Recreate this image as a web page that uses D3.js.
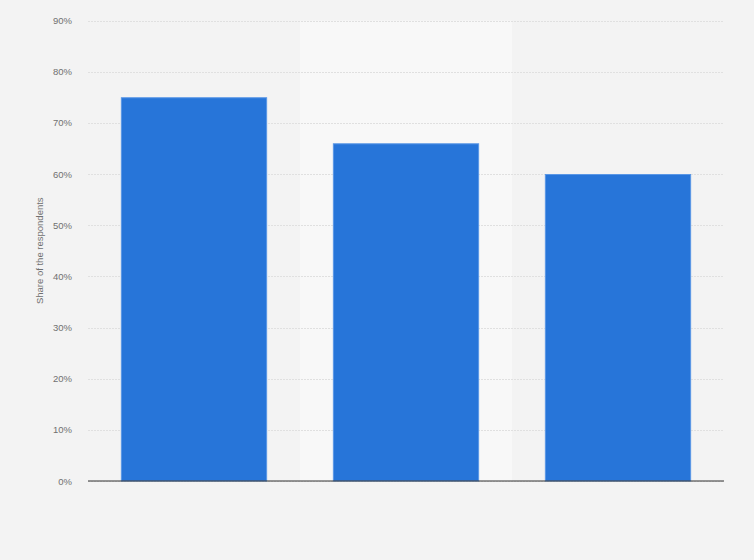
<!DOCTYPE html>
<html><head><meta charset="utf-8">
<script src="https://cdn.jsdelivr.net/npm/d3@7"></script>
<style>
html,body{margin:0;padding:0;background:#f3f3f3;}
svg{display:block;font-family:"Liberation Sans",Arial,sans-serif;}
</style></head>
<body><svg id="chart" width="754" height="560"></svg>
<script>
const categories = ["Group A", "Group B", "Group C"];
const values = [75, 66, 60];
const yTicks = [0, 10, 20, 30, 40, 50, 60, 70, 80, 90];
const yTitle = "Share of the respondents";

const svg = d3.select("#chart");
const W = 754, H = 560;
const m = {left: 88, right: 30, top: 20.5, bottom: 79};
const x0 = m.left, x1 = W - m.right, yTop = m.top, yBot = H - m.bottom;

svg.append("rect").attr("width", W).attr("height", H).attr("fill", "#f3f3f3");

const x = d3.scaleBand().domain(categories).range([x0, x1]).paddingInner(0.31).paddingOuter(0.155);
const xb = d3.scaleBand().domain(categories).range([x0, x1]);
const y = d3.scaleLinear().domain([0, 90]).range([yBot, yTop]);

// alternating band
svg.selectAll("rect.band").data(categories.filter((d,i)=>i%2===1)).enter().append("rect")
  .attr("class","band").attr("x", d=>xb(d)).attr("width", xb.bandwidth())
  .attr("y", yTop).attr("height", yBot - yTop).attr("fill", "#f8f8f8");

// grid
const yAxis = d3.axisLeft(y).tickValues(yTicks).tickFormat(d => d + "%").tickSize(0).tickPadding(16);
const gy = svg.append("g").attr("transform", `translate(${x0},0)`).call(yAxis);
gy.select(".domain").remove();
gy.selectAll("text").attr("fill", "#707070").attr("font-size", "9.5px").attr("dy", "0.32em");
gy.selectAll(".tick").append("line")
  .attr("x1", 0).attr("x2", x1 - x0)
  .attr("stroke", "#e0e0e0").attr("stroke-width", 1).attr("stroke-dasharray", "1.5,1.5")
  .attr("shape-rendering", "crispEdges");

// bars
svg.selectAll("rect.bar").data(values).enter().append("rect")
  .attr("class","bar")
  .attr("x", (d,i) => x(categories[i]) + 0.5)
  .attr("width", x.bandwidth() - 1)
  .attr("y", d => y(d) + 0.5)
  .attr("height", d => yBot - y(d) - 0.5)
  .attr("fill", "#2775d9")
  .attr("stroke", "#5a97e6").attr("stroke-width", 1);

// x axis baseline
const xAxis = d3.axisBottom(x).tickSize(0).tickFormat(() => "");
const gx = svg.append("g").attr("transform", `translate(0,${yBot})`).call(xAxis);
gx.select(".domain").attr("stroke", "#333").attr("stroke-width", 1.2).attr("d", `M${x0},0H${x1}`);

// y title
svg.append("text").attr("transform", `translate(43,${(yTop + yBot)/2}) rotate(-90)`)
  .attr("text-anchor", "middle").attr("fill", "#707070").attr("font-size", "9.5px").text(yTitle);
</script></body></html>
